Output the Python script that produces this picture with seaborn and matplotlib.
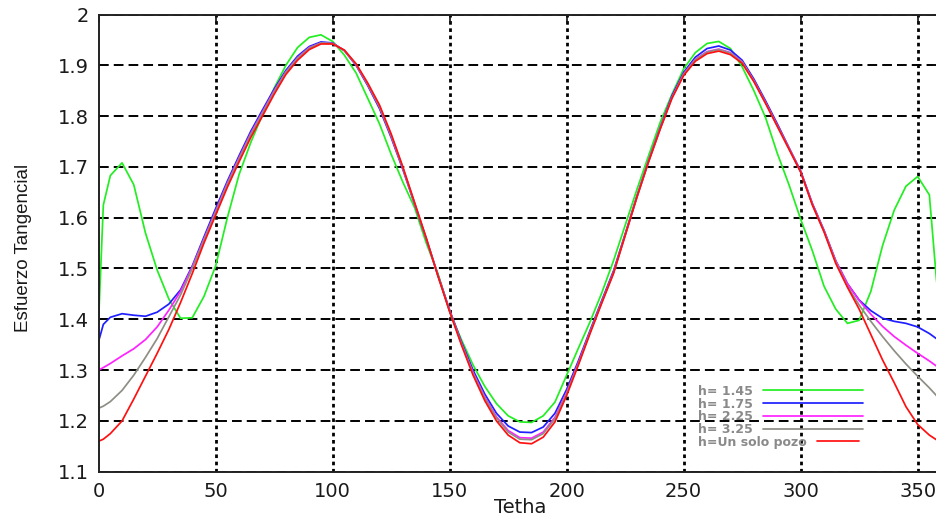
import matplotlib
matplotlib.use("Agg")
import matplotlib.pyplot as plt
import seaborn as sns
import pandas as pd
from matplotlib.legend_handler import HandlerLine2D

# Angular positions (degrees) at which the tangential stress was sampled
theta = [0, 2] + list(range(5, 360, 5)) + [358, 360]

h_145 = [1.400, 1.625, 1.683, 1.708, 1.665, 1.570, 1.497, 1.440, 1.402, 1.403,
         1.445, 1.505, 1.600, 1.685, 1.748, 1.803, 1.855, 1.900, 1.935, 1.955,
         1.960, 1.947, 1.920, 1.885, 1.835, 1.785, 1.725, 1.670, 1.620, 1.550,
         1.490, 1.415, 1.360, 1.310, 1.268, 1.234, 1.210, 1.198, 1.197, 1.210,
         1.237, 1.290, 1.343, 1.395, 1.452, 1.515, 1.585, 1.655, 1.722, 1.788,
         1.843, 1.893, 1.925, 1.943, 1.947, 1.933, 1.897, 1.850, 1.797, 1.727,
         1.665, 1.597, 1.535, 1.465, 1.420, 1.392, 1.398, 1.455, 1.545, 1.615,
         1.662, 1.681, 1.645, 1.480, 1.400]

h_175 = [1.357, 1.390, 1.404, 1.411, 1.408, 1.406, 1.414, 1.430, 1.458, 1.505,
         1.562, 1.618, 1.672, 1.722, 1.770, 1.812, 1.853, 1.890, 1.918, 1.937,
         1.946, 1.944, 1.929, 1.900, 1.860, 1.815, 1.758, 1.695, 1.627, 1.558,
         1.487, 1.418, 1.356, 1.300, 1.253, 1.215, 1.190, 1.178, 1.177, 1.188,
         1.215, 1.262, 1.318, 1.378, 1.437, 1.495, 1.568, 1.642, 1.712, 1.778,
         1.840, 1.886, 1.916, 1.933, 1.938, 1.930, 1.910, 1.873, 1.830, 1.785,
         1.738, 1.692, 1.628, 1.575, 1.515, 1.470, 1.438, 1.417, 1.402, 1.396,
         1.392, 1.385, 1.372, 1.362, 1.357]

h_225 = [1.300, 1.305, 1.313, 1.328, 1.342, 1.360, 1.385, 1.418, 1.455, 1.503,
         1.558, 1.613, 1.668, 1.718, 1.766, 1.808, 1.850, 1.887, 1.915, 1.935,
         1.944, 1.943, 1.929, 1.901, 1.862, 1.818, 1.761, 1.697, 1.628, 1.559,
         1.486, 1.417, 1.353, 1.295, 1.247, 1.208, 1.181, 1.167, 1.166, 1.178,
         1.207, 1.256, 1.314, 1.375, 1.434, 1.492, 1.566, 1.641, 1.711, 1.776,
         1.837, 1.883, 1.912, 1.927, 1.932, 1.925, 1.907, 1.870, 1.827, 1.782,
         1.737, 1.691, 1.627, 1.574, 1.515, 1.470, 1.437, 1.410, 1.386, 1.366,
         1.349, 1.333, 1.318, 1.308, 1.302]

h_325 = [1.225, 1.229, 1.238, 1.260, 1.290, 1.325, 1.362, 1.405, 1.448, 1.500,
         1.556, 1.611, 1.666, 1.716, 1.764, 1.806, 1.848, 1.886, 1.914, 1.934,
         1.944, 1.943, 1.929, 1.902, 1.863, 1.819, 1.762, 1.698, 1.629, 1.559,
         1.486, 1.416, 1.352, 1.293, 1.245, 1.206, 1.178, 1.164, 1.163, 1.175,
         1.204, 1.254, 1.312, 1.374, 1.433, 1.491, 1.565, 1.640, 1.710, 1.775,
         1.836, 1.882, 1.911, 1.926, 1.931, 1.924, 1.906, 1.869, 1.826, 1.781,
         1.736, 1.690, 1.626, 1.573, 1.513, 1.465, 1.428, 1.396, 1.366, 1.338,
         1.312, 1.288, 1.265, 1.250, 1.230]

un_solo_pozo = [1.160, 1.164, 1.175, 1.200, 1.243, 1.288, 1.333, 1.380, 1.433, 1.490,
                1.550, 1.605, 1.660, 1.710, 1.758, 1.800, 1.843, 1.882, 1.910, 1.931,
                1.942, 1.942, 1.930, 1.903, 1.865, 1.822, 1.765, 1.700, 1.630, 1.560,
                1.485, 1.415, 1.350, 1.290, 1.240, 1.200, 1.172, 1.157, 1.155, 1.168,
                1.198, 1.250, 1.310, 1.372, 1.432, 1.490, 1.565, 1.640, 1.710, 1.775,
                1.835, 1.880, 1.908, 1.923, 1.928, 1.921, 1.904, 1.868, 1.825, 1.780,
                1.735, 1.690, 1.625, 1.572, 1.510, 1.463, 1.420, 1.370, 1.320, 1.275,
                1.228, 1.193, 1.172, 1.163, 1.160]

labels = ["h= 1.45", "h= 1.75", "h= 2.25", "h= 3.25", "h=Un solo pozo"]
colors = ["#22ee22", "#1f1fff", "#ff22ff", "#8e8e84", "#ff1010"]
series = [h_145, h_175, h_225, h_325, un_solo_pozo]

x_ticks = [0, 50, 100, 150, 200, 250, 300, 350]
y_ticks = [1.1, 1.2, 1.3, 1.4, 1.5, 1.6, 1.7, 1.8, 1.9, 2.0]
y_tick_labels = ["1.1", "1.2", "1.3", "1.4", "1.5", "1.6", "1.7", "1.8", "1.9", "2"]

df = pd.concat(
    [pd.DataFrame({"theta": theta, "esfuerzo": vals, "serie": lab})
     for lab, vals in zip(labels, series)],
    ignore_index=True,
)

sns.set_style("white")
plt.rcParams["font.family"] = ["DejaVu Sans"]

fig = plt.figure(figsize=(9.36, 5.20), dpi=100)
ax = fig.add_axes([0.1054, 0.0929, 0.900, 0.8792])

sns.lineplot(data=df, x="theta", y="esfuerzo", hue="serie", hue_order=labels,
             palette=dict(zip(labels, colors)), estimator=None, sort=False,
             linewidth=1.25, legend=False, ax=ax)

ax.set_xlim(0, 360)
ax.set_ylim(1.1, 2.0)
ax.set_xticks(x_ticks)
ax.set_yticks(y_ticks)
ax.set_yticklabels(y_tick_labels)

# MATLAB-like grid: dotted verticals, dashed horizontals
ax.grid(False)
ax.xaxis.grid(True, color="black", linestyle=(0, (1.3, 1.3)), linewidth=2.0)
ax.yaxis.grid(True, color="black", linestyle=(0, (5.0, 2.6)), linewidth=1.4)
ax.set_axisbelow(True)

for side in ["top", "left", "bottom", "right"]:
    ax.spines[side].set_color("#222222")
    ax.spines[side].set_linewidth(1.4)

ax.tick_params(axis="both", direction="in", length=6, width=1.2, color="#111111",
               top=True, right=True, labelsize=14, labelcolor="#1a1a1a")
ax.tick_params(axis="y", pad=7)
ax.tick_params(axis="x", pad=7.5)

ax.set_xlabel("Tetha", fontsize=14, color="#1a1a1a", labelpad=-2)
ax.set_ylabel("Esfuerzo Tangencial", fontsize=13.5, color="#1a1a1a",
              family=["Liberation Sans", "DejaVu Sans"])
ax.yaxis.set_label_coords(-0.079, 0.49)

# the first vertical grid line would sit on top of the left spine
fig.canvas.draw()
ax.xaxis.get_gridlines()[0].set_visible(False)


class ShortLine(HandlerLine2D):
    """Legend sample that only fills the left part of the handle box."""

    def create_artists(self, legend, orig_handle, xdescent, ydescent,
                       width, height, fontsize, trans):
        return super().create_artists(legend, orig_handle, xdescent, ydescent,
                                      width * 0.42, height, fontsize, trans)


handles = ax.get_lines()[:len(labels)]
leg = ax.legend(handles, labels, loc="upper left", bbox_to_anchor=(0.712, 0.190),
                frameon=False, markerfirst=False, handlelength=8.0,
                handletextpad=0.75, borderpad=0, borderaxespad=0,
                labelspacing=-0.02, prop=dict(size=9, weight="bold"),
                labelcolor="#8a8a8a", handler_map={handles[-1]: ShortLine()})
for col in leg._legend_handle_box.get_children():
    col.align = "left"

fig.savefig("out.png", dpi=100)
